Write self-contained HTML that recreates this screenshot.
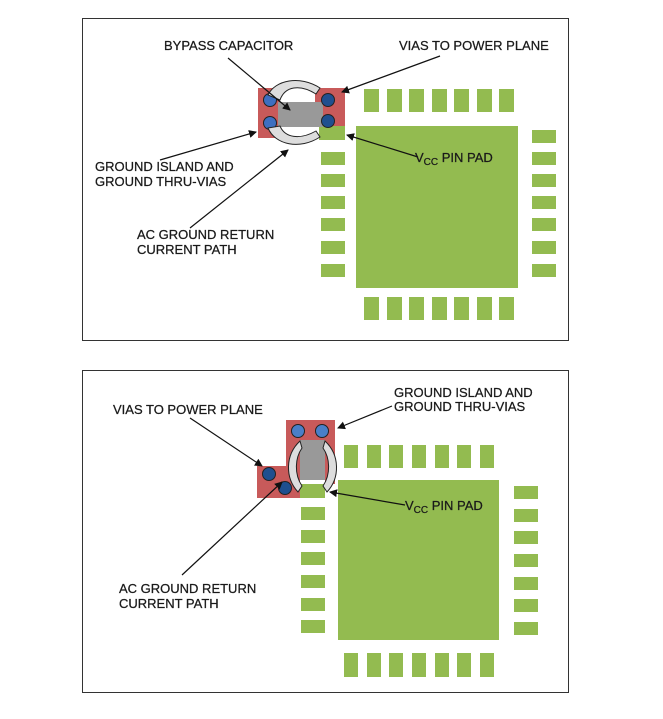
<!DOCTYPE html>
<html><head><style>body{margin:0;background:#fff}svg{display:block}text{font-family:"Liberation Sans",Arial,sans-serif;font-size:13px;fill:#1a1a1a;stroke:#1a1a1a;stroke-width:0.25px}</style></head><body>
<svg width="663" height="719" viewBox="0 0 663 719" xmlns="http://www.w3.org/2000/svg">
<defs><marker id="a" markerWidth="8" markerHeight="8" refX="7" refY="4" orient="auto" markerUnits="userSpaceOnUse"><path d="M0,0 L8,4 L0,8 z" fill="#111"/></marker></defs>
<rect x="82.5" y="18.5" width="486" height="322" fill="#fff" stroke="#333"/>
<rect x="82.5" y="370.5" width="486" height="322" fill="#fff" stroke="#333"/>
<g fill="#93bb50">
<rect x="356" y="126" width="162" height="162"/>
<rect x="364" y="89" width="15" height="23"/><rect x="387" y="89" width="15" height="23"/><rect x="409" y="89" width="15" height="23"/><rect x="432" y="89" width="15" height="23"/><rect x="454" y="89" width="15" height="23"/><rect x="477" y="89" width="15" height="23"/><rect x="499" y="89" width="15" height="23"/>
<rect x="364" y="297" width="15" height="23"/><rect x="387" y="297" width="15" height="23"/><rect x="409" y="297" width="15" height="23"/><rect x="432" y="297" width="15" height="23"/><rect x="454" y="297" width="15" height="23"/><rect x="477" y="297" width="15" height="23"/><rect x="499" y="297" width="15" height="23"/>
<rect x="321" y="152" width="24" height="13"/><rect x="321" y="174" width="24" height="13"/><rect x="321" y="196" width="24" height="13"/><rect x="321" y="218" width="24" height="13"/><rect x="321" y="241" width="24" height="13"/><rect x="321" y="264" width="24" height="13"/>
<rect x="532" y="130" width="24" height="13"/><rect x="532" y="152" width="24" height="13"/><rect x="532" y="174" width="24" height="13"/><rect x="532" y="196" width="24" height="13"/><rect x="532" y="218" width="24" height="13"/><rect x="532" y="241" width="24" height="13"/><rect x="532" y="264" width="24" height="13"/>
<rect x="319" y="126" width="26" height="14"/>
</g>
<rect x="258" y="88" width="22" height="50" fill="#c85a5a"/>
<rect x="315" y="88" width="30" height="38" fill="#c85a5a"/>
<rect x="278" y="102" width="45" height="25" fill="#999"/>
<g stroke="#222" fill="#3d6fc0"><circle cx="270" cy="100" r="6.5"/><circle cx="270" cy="123" r="6.5"/></g>
<g stroke="#222" fill="#1f4f8f"><circle cx="328" cy="100" r="6.5"/><circle cx="328" cy="121" r="6.5"/></g>
<g fill="#ddd" stroke="#222" stroke-width="1"><path d="M268,95 C275,80 300,75 320,88 L316,94 C300,84 285,86 280,100 Z"/><path d="M268,128 C275,145 300,150 320,137 L316,131 C300,140 285,138 280,126 Z"/></g>
<g stroke="#111" stroke-width="1.2" fill="none" marker-end="url(#a)">
<line x1="228" y1="58" x2="290" y2="110"/><line x1="440" y1="56" x2="342" y2="92"/>
<line x1="160" y1="160" x2="256" y2="132"/><line x1="418" y1="157" x2="347" y2="135"/>
<line x1="190" y1="228" x2="288" y2="150"/>
</g>
<text x="164" y="50">BYPASS CAPACITOR</text><text x="399" y="50">VIAS TO POWER PLANE</text>
<text x="95" y="171">GROUND ISLAND AND</text><text x="95" y="186">GROUND THRU-VIAS</text>
<text x="415" y="162">V<tspan font-size="10" dy="3">CC</tspan><tspan dy="-3"> PIN PAD</tspan></text>
<text x="137" y="239">AC GROUND RETURN</text><text x="137" y="254">CURRENT PATH</text>
<g fill="#93bb50">
<rect x="338" y="480" width="161" height="160"/>
<rect x="344" y="445" width="14" height="23"/><rect x="367" y="445" width="14" height="23"/><rect x="389" y="445" width="14" height="23"/><rect x="412" y="445" width="14" height="23"/><rect x="435" y="445" width="14" height="23"/><rect x="457" y="445" width="14" height="23"/><rect x="480" y="445" width="14" height="23"/>
<rect x="344" y="653" width="14" height="24"/><rect x="367" y="653" width="14" height="24"/><rect x="389" y="653" width="14" height="24"/><rect x="412" y="653" width="14" height="24"/><rect x="435" y="653" width="14" height="24"/><rect x="457" y="653" width="14" height="24"/><rect x="480" y="653" width="14" height="24"/>
<rect x="301" y="507" width="24" height="13"/><rect x="301" y="530" width="24" height="13"/><rect x="301" y="552" width="24" height="13"/><rect x="301" y="575" width="24" height="13"/><rect x="301" y="598" width="24" height="13"/><rect x="301" y="620" width="24" height="13"/>
<rect x="514" y="486" width="24" height="13"/><rect x="514" y="509" width="24" height="13"/><rect x="514" y="531" width="24" height="13"/><rect x="514" y="554" width="24" height="13"/><rect x="514" y="577" width="24" height="13"/><rect x="514" y="599" width="24" height="13"/><rect x="514" y="622" width="24" height="13"/>
</g>
<rect x="286" y="420" width="49" height="20" fill="#c85a5a"/>
<rect x="286" y="420" width="14" height="78" fill="#c85a5a"/>
<rect x="325" y="420" width="10" height="64" fill="#c85a5a"/>
<rect x="257" y="466" width="43" height="32" fill="#c85a5a"/>
<rect x="300" y="440" width="25" height="40" fill="#999"/>
<rect x="300" y="484" width="25" height="14" fill="#93bb50"/>
<g stroke="#222" fill="#4a7fc8"><circle cx="298" cy="431" r="6.5"/><circle cx="322" cy="431" r="6.5"/></g>
<g stroke="#222" fill="#1f4f8f"><circle cx="269" cy="474" r="6.5"/><circle cx="285" cy="488" r="6.5"/></g>
<g fill="#ddd" stroke="#222"><path d="M300,441 C285,455 285,478 298,492 L302,486 C294,474 295,458 302,448 Z"/><path d="M325,441 C340,455 340,478 327,492 L323,486 C331,474 330,458 323,448 Z"/></g>
<g stroke="#111" stroke-width="1.2" fill="none" marker-end="url(#a)">
<line x1="190" y1="418" x2="262" y2="466"/><line x1="392" y1="406" x2="338" y2="428"/>
<line x1="405" y1="505" x2="330" y2="492"/><line x1="182" y1="575" x2="282" y2="482"/>
</g>
<text x="113" y="414">VIAS TO POWER PLANE</text>
<text x="394" y="397">GROUND ISLAND AND</text><text x="394" y="411">GROUND THRU-VIAS</text>
<text x="405" y="510">V<tspan font-size="10" dy="3">CC</tspan><tspan dy="-3"> PIN PAD</tspan></text>
<text x="119" y="593">AC GROUND RETURN</text><text x="119" y="608">CURRENT PATH</text>
</svg></body></html>
